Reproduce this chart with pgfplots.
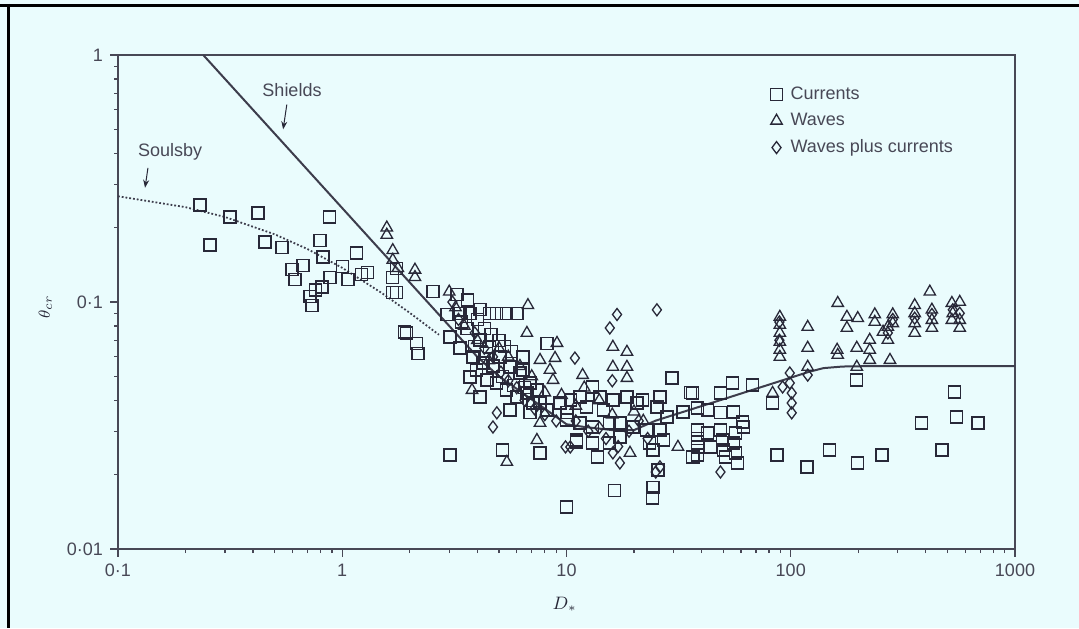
\documentclass[border=0pt]{standalone}
\usepackage{fontspec}
\setmainfont{Liberation Sans}
\usepackage{pgfplots}
\pgfplotsset{compat=1.18}
\usetikzlibrary{arrows.meta}
\definecolor{bg}{RGB}{234,252,253}
\definecolor{ink}{RGB}{40,40,56}
\begin{document}
\begin{tikzpicture}
\fill[bg] (-59pt,-39.5pt) rectangle (480.5pt,274.5pt);
\useasboundingbox (-59pt,-39.5pt) rectangle (480.5pt,274.5pt);
\draw[black, line width=1.5pt] (-59pt,271.75pt) -- (480.5pt,271.75pt);
\draw[black, line width=1.5pt] (-54.75pt,272.5pt) -- (-54.75pt,-39.5pt);
\begin{axis}[
  at={(0pt,0pt)}, anchor=south west,
  scale only axis, width=448.5pt, height=247pt,
  xmode=log, ymode=log,
  xmin=0.1, xmax=1000, ymin=0.01, ymax=1,
  axis line style={ink!85, line width=0.8pt},
  tick style={ink!85, line width=0.6pt},
  major tick length=4pt, minor tick length=2pt,
  tick align=outside, tick pos=left,
  xtick={0.1,1,10,100,1000}, xticklabels={0·1,1,10,100,1000},
  ytick={0.01,0.1,1}, yticklabels={0·01,0·1,1},
  tick label style={font=\fontsize{9}{10}\selectfont, text=ink!85},
  xlabel={$D_*$}, ylabel={$\theta_{cr}$},
  xlabel style={at={(axis description cs:0.498,-0.113)}, anchor=center, font=\fontsize{9}{10}\selectfont, text=ink},
  ylabel style={at={(axis description cs:-0.081,0.49)}, anchor=center, font=\fontsize{8}{10}\selectfont, text=ink},
  legend style={draw=none, fill=none, at={(rel axis cs:0.727,0.945)}, anchor=north west,
    font=\fontsize{9}{10}\selectfont, text=ink!85, row sep=1.5pt, inner sep=0pt},
  legend cell align=left,
  clip=false,
]
% Currents
\addplot[only marks, mark=square, mark size=3pt, ink, line width=0.65pt] coordinates {
(0.232,0.247) (0.257,0.170) (0.316,0.221) (0.421,0.229) (0.452,0.175) (0.538,0.166)
(0.597,0.135) (0.615,0.123) (0.668,0.141) (0.718,0.105) (0.733,0.097) (0.812,0.115)
(0.82,0.152) (0.795,0.178) (0.88,0.221) (0.881,0.126) (1.0,0.139) (1.06,0.123)
(1.16,0.158) (1.22,0.129) (1.30,0.132) (1.75,0.109) (1.75,0.137) (1.94,0.075)
(2.15,0.068) (2.18,0.062) (0.76,0.112)
(1.68,0.126) (2.54,0.110) (3.25,0.107) (3.63,0.102) (1.68,0.109) (1.90,0.0757)
(2.93,0.089) (3.35,0.090) (3.71,0.090) (4.11,0.093) (4.55,0.090) (4.89,0.090)
(5.42,0.090) (6.01,0.090) (3.02,0.0722) (3.35,0.0652) (3.83,0.0599) (4.11,0.0702)
(4.55,0.0658) (5.05,0.0599) (5.59,0.0546) (6.20,0.0516) (4.89,0.047) (5.42,0.044)
(6.01,0.0412) (6.66,0.0428) (7.38,0.044) (8.19,0.068) (7.62,0.039) (8.19,0.0365)
(9.36,0.039) (10.05,0.0356) (6.39,0.0599) (6.39,0.0531) (3.71,0.0497) (3.98,0.0531)
(4.24,0.0566) (4.42,0.0483) (4.11,0.0412) (6.87,0.047) (7.08,0.039) (5.59,0.0365)
(6.87,0.0356)
(4.0,0.085) (4.3,0.078) (4.6,0.074) (5.0,0.07) (5.3,0.066) (5.7,0.063) (3.6,0.078)
(3.9,0.066) (4.7,0.055) (5.2,0.05) (5.8,0.046) (6.5,0.045) (4.4,0.062) (3.4,0.083)
(3.02,0.024) (5.20,0.0252) (7.62,0.0245) (11.1,0.0271) (13.7,0.0236) (16.4,0.0173)
(24.3,0.0178) (24.1,0.0161) (25.6,0.0209) (36.6,0.0236) (10.0,0.0148)
(29.5,0.0492) (35.6,0.043)
(10.4,0.0401) (11.5,0.0412) (13.1,0.0453) (14.1,0.0412) (12.3,0.0376) (14.6,0.0365)
(16.1,0.0401) (18.6,0.0412) (20.6,0.039) (21.9,0.0401) (26.1,0.0412) (28.1,0.0342)
(25.3,0.0376) (10.0,0.0333) (11.5,0.0324) (13.1,0.0312) (15.6,0.0324) (17.3,0.0324)
(19.8,0.0312) (22.8,0.0303) (26.1,0.0303) (11.1,0.0276) (13.1,0.0269) (15.6,0.0269)
(17.3,0.0284) (23.5,0.0269) (24.3,0.0252) (27.0,0.0276)
(55.0,0.047) (67.6,0.0461) (36.4,0.0428) (48.6,0.0428) (33.1,0.0359) (38.4,0.0372)
(42.5,0.0365) (48.6,0.0356) (55.6,0.0359) (61.1,0.0327) (61.7,0.0312) (38.4,0.0303)
(38.4,0.0281) (38.4,0.0259) (38.4,0.0240) (42.5,0.0295) (43.8,0.0259) (48.6,0.0303)
(49.6,0.0276) (50.1,0.0252) (51.2,0.0236) (56.8,0.0295) (55.6,0.0269) (56.8,0.0245)
(58.0,0.0223)
(83,0.039) (86.7,0.024) (197,0.0483)
(539,0.0432) (550,0.0342) (683,0.0324) (384,0.0324) (472,0.0252) (118,0.0215)
(149,0.0252) (199,0.0223) (255,0.024)
};
\addlegendentry{\hspace{2pt}Currents}
% Waves
\addplot[only marks, mark=triangle, mark size=3.3pt, ink, line width=0.65pt] coordinates {
(1.58,0.20) (1.58,0.187) (1.68,0.162) (1.68,0.148) (1.77,0.137) (2.11,0.135) (2.11,0.126)
(6.73,0.097) (6.66,0.0749) (3.79,0.044) (9.07,0.0682) (7.62,0.0582) (8.89,0.0593)
(8.44,0.0531) (8.71,0.0483) (7.62,0.0324) (7.38,0.0276) (5.42,0.0225) (31.4,0.0259)
(19.2,0.0245) (16.1,0.0658) (18.6,0.0628) (16.1,0.0546) (18.6,0.0546) (11.8,0.0506)
(18.6,0.0492)
(3.0,0.11) (3.2,0.095) (3.5,0.08) (4.0,0.07) (4.5,0.058) (5.0,0.065) (5.5,0.06)
(6.2,0.055) (7.0,0.05) (8.0,0.043) (9.5,0.042) (11,0.038) (12,0.045) (14,0.04)
(16,0.035) (20,0.036) (22,0.033)
(89.4,0.087) (89.4,0.0807) (89.4,0.0749) (89.4,0.0689) (89.4,0.064) (89.4,0.0599)
(119,0.0792) (119,0.0652) (119,0.0546) (162,0.099) (178,0.087) (199,0.086) (178,0.0785)
(161,0.064) (162,0.061) (197,0.0652) (197,0.0546) (237,0.089) (237,0.083) (225,0.0702)
(225,0.064) (225,0.0582) (258,0.0757) (271,0.0792) (285,0.089) (285,0.082) (271,0.0702)
(277,0.0582) (417,0.110) (357,0.097) (357,0.09) (357,0.082) (357,0.0749) (426,0.093)
(426,0.0845) (426,0.0785) (523,0.099) (567,0.1) (528,0.09) (567,0.0845) (567,0.0785)
(523,0.0845) (83,0.0428)
};
\addlegendentry{\hspace{2pt}Waves}
% Waves plus currents
\addplot[only marks, mark=diamond, mark size=3pt, ink, line width=0.65pt] coordinates {
(16.8,0.089) (15.6,0.0785) (25.3,0.093) (10.9,0.0593) (16.0,0.048)
(4.89,0.0356) (4.70,0.0312) (10.4,0.0259) (9.9,0.0259) (16.1,0.0245) (17.3,0.0223)
(26.1,0.0215) (25.0,0.0205) (48.6,0.0205)
(99,0.0516) (99,0.047) (101,0.0428) (101,0.039) (101,0.0356) (92,0.0453) (119,0.0506)
(89,0.083) (89,0.07) (285,0.085) (357,0.086) (426,0.089) (528,0.093) (567,0.09) (271,0.075)
(3.1,0.1) (3.3,0.085) (3.9,0.075) (4.3,0.065) (4.7,0.06) (5.1,0.052) (5.5,0.048)
(6.0,0.045) (6.5,0.04) (7.2,0.037) (8,0.035) (9,0.033) (11,0.033) (12.5,0.03)
(14,0.031) (15,0.028) (17,0.026) (19,0.03) (21,0.033) (23,0.028)
};
\addlegendentry{\hspace{2pt}Waves plus currents}
% Shields curve
\addplot[ink!90, line width=1pt, forget plot] coordinates {
(0.24,1.0) (0.5,0.48) (1,0.24) (2,0.12) (3,0.08) (4,0.06) (5,0.050) (6,0.0445)
(7,0.0403) (8,0.037) (10,0.032) (12,0.0312) (16,0.0303) (20,0.0303) (25,0.0331)
(30,0.0349) (40,0.0379) (50,0.0404) (60,0.0426) (80,0.0463) (100,0.0494)
(120,0.0521) (140,0.0540) (170,0.0548) (220,0.055) (1000,0.055)
};
% Soulsby curve
\addplot[ink!90, line width=0.9pt, densely dotted, forget plot] coordinates {
(0.1,0.268) (0.2,0.2421) (0.3,0.2209) (0.5,0.188) (0.7,0.1638) (1,0.1375)
(1.5,0.1088) (2,0.0904) (2.7,0.0737)
};
\node[font=\fontsize{9}{10}\selectfont, text=ink!85] at (axis cs:0.597,0.72) {Shields};
\draw[ink, line width=0.5pt, -{Stealth[length=4pt,width=3pt]}] (axis cs:0.566,0.63) -- (axis cs:0.545,0.50);
\node[font=\fontsize{9}{10}\selectfont, text=ink!85] at (axis cs:0.171,0.405) {Soulsby};
\draw[ink, line width=0.5pt, -{Stealth[length=4pt,width=3pt]}] (axis cs:0.136,0.349) -- (axis cs:0.132,0.29);
\end{axis}
\end{tikzpicture}
\end{document}
